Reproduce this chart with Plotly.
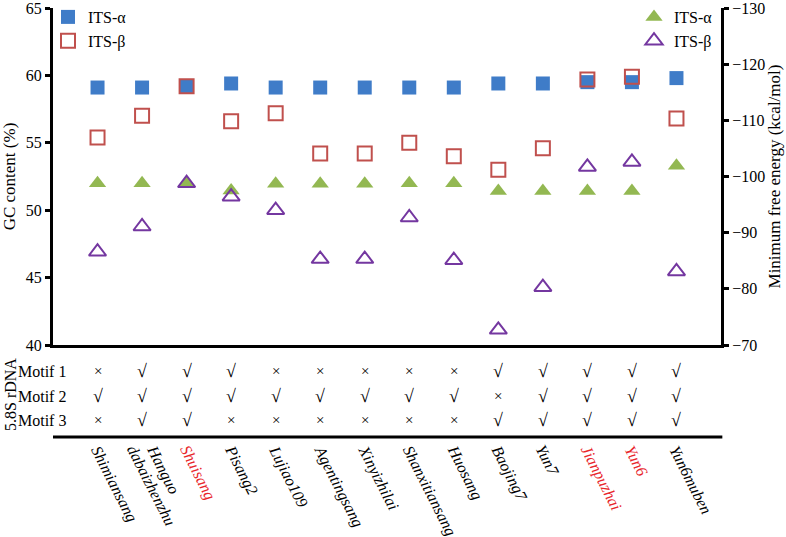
import plotly.graph_objects as go

# ---------------- data ----------------
cultivars = ["Shimiansang", "Hanguo<br>dabaizhenzhu", "Shuisang", "Pisang2", "Lujiao109",
             "Agentingsang", "Xinyizhilai", "Shanxitiansang", "Huosang", "Baojing7",
             "Yun7", "Jianpuzhai", "Yun6", "Yun6muben"]
highlighted = ["Shuisang", "Jianpuzhai", "Yun6"]

gc_its_alpha = [59.1, 59.1, 59.2, 59.4, 59.1, 59.1, 59.1, 59.1, 59.1, 59.4, 59.4, 59.5, 59.5, 59.8]
gc_its_beta = [55.4, 57.0, 59.2, 56.6, 57.2, 54.2, 54.2, 55.0, 54.0, 53.0, 54.6, 59.7, 59.9, 56.8]
mfe_its_alpha = [-98.8, -98.8, -98.8, -97.5, -98.7, -98.7, -98.7, -98.8, -98.8, -97.4, -97.4, -97.4, -97.4, -101.9]
mfe_its_beta = [-86.6, -91.1, -98.8, -96.4, -94.0, -85.3, -85.3, -92.7, -85.1, -72.7, -80.3, -101.7, -102.6, -83.1]

motif_names = ["Motif 1", "Motif 2", "Motif 3"]
motif1 = [0, 1, 1, 1, 0, 0, 0, 0, 0, 1, 1, 1, 1, 1]
motif2 = [1, 1, 1, 1, 1, 1, 1, 1, 1, 0, 1, 1, 1, 1]
motif3 = [0, 1, 1, 0, 0, 0, 0, 0, 0, 1, 1, 1, 1, 1]
motifs = [motif1, motif2, motif3]

gc_ticks = [40, 45, 50, 55, 60, 65]
mfe_ticks = [-70, -80, -90, -100, -110, -120, -130]

# ---------------- styles ----------------
FONT = "'Liberation Serif', 'Times New Roman', 'DejaVu Serif', serif"
BLUE = "#3f7cc8"
RED = "#c0504d"
GREEN = "#93b852"
PURPLE = "#7437a0"

idx = list(range(len(cultivars)))
fig = go.Figure()

fig.add_trace(go.Scatter(x=idx, y=gc_its_alpha, mode="markers", name="ITS-α",
                         marker=dict(symbol="square", size=14, color=BLUE),
                         legend="legend"))
fig.add_trace(go.Scatter(x=idx, y=gc_its_beta, mode="markers", name="ITS-β",
                         marker=dict(symbol="square-open", size=14, color=RED,
                                     line=dict(width=2, color=RED)),
                         legend="legend"))
fig.add_trace(go.Scatter(x=idx, y=mfe_its_alpha, mode="markers", name="ITS-α", yaxis="y2",
                         marker=dict(symbol="triangle-up", size=15, color=GREEN),
                         legend="legend2"))
fig.add_trace(go.Scatter(x=idx, y=mfe_its_beta, mode="markers", name="ITS-β", yaxis="y2",
                         marker=dict(symbol="triangle-up-open", size=15, color=PURPLE,
                                     line=dict(width=2, color=PURPLE)),
                         legend="legend2"))

axis_common = dict(showgrid=False, zeroline=False, showline=True, linecolor="black",
                   linewidth=3, ticks="outside", ticklen=5, tickwidth=3, tickcolor="black",
                   ticklabeloverflow="allow",
                   tickfont=dict(family=FONT, size=16, color="black"))

# plot area pixel geometry (for paper coordinate conversions)
PLOT_TOP, PLOT_BOTTOM = 8, 345
PH = PLOT_BOTTOM - PLOT_TOP
PL, PR = 53, 721
PW = PR - PL


def py(pixel_y):
    return (PLOT_BOTTOM - pixel_y) / PH


def px(pixel_x):
    return (pixel_x - PL) / PW


fig.update_layout(
    width=786, height=537,
    margin=dict(l=PL, r=786 - PR, t=PLOT_TOP, b=537 - PLOT_BOTTOM, autoexpand=False),
    paper_bgcolor="white", plot_bgcolor="white",
    font=dict(family=FONT, size=16, color="black"),
    showlegend=True,
    xaxis=dict(range=[-1, len(cultivars)], showgrid=False, zeroline=False, showline=True,
               linecolor="black", linewidth=3, showticklabels=False, ticks=""),
    yaxis=dict(range=[40, 65], tickvals=gc_ticks,
               title=dict(text="GC content (%)", standoff=6,
                          font=dict(family=FONT, size=17)),
               **axis_common),
    yaxis2=dict(range=[-70, -130], tickvals=mfe_ticks, overlaying="y", side="right",
                title=dict(text="Minimum free energy (kcal/mol)", standoff=0,
                           font=dict(family=FONT, size=17)),
                **axis_common),
    legend=dict(x=px(48), y=py(0), xanchor="left", yanchor="top", bgcolor="rgba(0,0,0,0)",
                font=dict(family=FONT, size=16), tracegroupgap=0, itemwidth=30),
    legend2=dict(x=px(634), y=py(0), xanchor="left", yanchor="top", bgcolor="rgba(0,0,0,0)",
                 font=dict(family=FONT, size=16), tracegroupgap=0, itemwidth=30),
)

annotations = []
row_pixel_y = [371, 396, 420]
for r, (name, row) in enumerate(zip(motif_names, motifs)):
    annotations.append(dict(text=name, xref="paper", yref="paper", x=px(68), y=py(row_pixel_y[r]),
                            xanchor="right", yanchor="middle", showarrow=False,
                            font=dict(family=FONT, size=16, color="black")))
    for i, v in enumerate(row):
        sym = "√" if v else "×"
        annotations.append(dict(text=sym, xref="x", yref="paper", x=i, y=py(row_pixel_y[r]),
                                xanchor="center", yanchor="middle", showarrow=False,
                                font=dict(family=FONT, size=18 if v else 15, color="black")))

annotations.append(dict(text="5.8S rDNA", xref="paper", yref="paper", x=px(10), y=py(395),
                        textangle=-90, xanchor="center", yanchor="middle", showarrow=False,
                        font=dict(family=FONT, size=16, color="black")))

for i, name in enumerate(cultivars):
    lines = name.split("<br>")
    plain = " ".join(lines)
    color = "#e8262b" if plain in highlighted else "black"
    nlines = len(lines)
    for j, line in enumerate(lines):
        annotations.append(dict(text="<i>" + line + "</i>", xref="x", yref="paper", x=i, y=py(440),
                                textangle=63, xanchor="left", yanchor="top", showarrow=False,
                                xshift=-13 + 11 * (nlines - 1) - 19 * j,
                                font=dict(family=FONT, size=16, color=color)))

fig.update_layout(annotations=annotations)

fig.add_shape(type="line", xref="paper", yref="paper", x0=0, x1=1.002, y0=py(437), y1=py(437),
              line=dict(color="black", width=3))

# the page's default body margin would offset the figure; remove it
fig.write_html("out.html", config={"displayModeBar": False},
               post_script="document.body.style.margin='0px';")
